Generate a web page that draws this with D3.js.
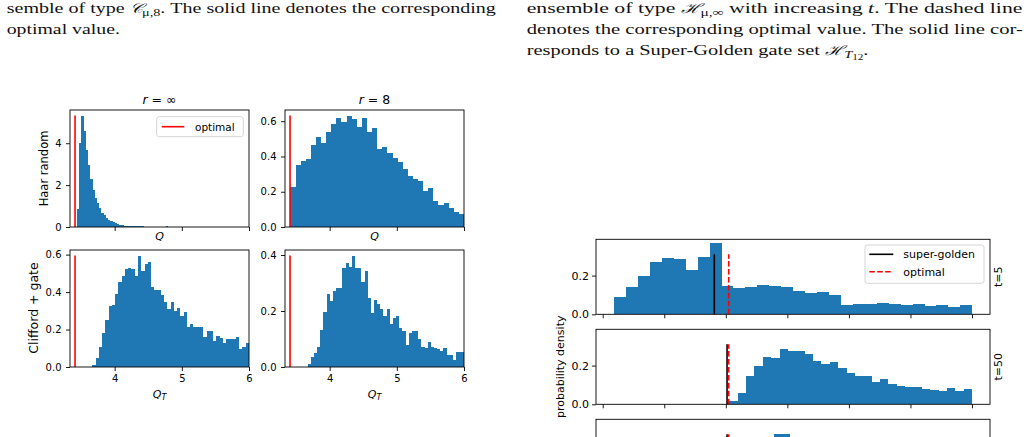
<!DOCTYPE html>
<html><head><meta charset="utf-8">
<script src="https://cdn.jsdelivr.net/npm/d3@7"></script>
<style>body{margin:0;background:#fff}svg{display:block}</style>
</head><body><svg id="c" width="1029" height="437"></svg>
<script>
// ---------------- data ----------------
const qTicks = [4, 5, 6];
const qDomain = [3.335, 6];
const optimalQ = 3.41;

const haarInfStart = 3.439, haarInfBin = 0.0331;
const haarInf = [0.85, 4.03, 5.32, 4.60, 3.70, 2.98, 2.29, 1.77, 1.37, 1.13, 0.89, 0.69, 0.56, 0.45, 0.35, 0.29, 0.24, 0.21, 0.16, 0.11,
  0.08, 0.07, 0.06, 0.06, 0.05, 0.04, 0.04, 0.03, 0.03, 0.03, 0.02, 0.02, 0.02, 0.02, 0.01, 0.02, 0.01, 0.01, 0.01, 0.01,
  0.03, 0.01, 0.01, 0.01, 0.01, 0.00, 0.01, 0.01, 0.00, 0.01, 0.00, 0.01, 0.00, 0.00, 0.01, 0.00, 0.00, 0.01, 0.00, 0.00,
  0.00, 0.01, 0.00, 0.00, 0.00, 0.00, 0.00, 0.01, 0.00, 0.00, 0.00, 0.00, 0.00, 0.00, 0.00, 0.01, 0.00, 0.00];

const haar8Start = 3.416, haar8Bin = 0.076;
const haar8 = [0.229, 0.349, 0.375, 0.387, 0.467, 0.512, 0.478, 0.541, 0.587, 0.621, 0.598, 0.632, 0.611, 0.570, 0.617, 0.541, 0.560,
  0.444, 0.455, 0.419, 0.394, 0.368, 0.330, 0.291, 0.272, 0.261, 0.204, 0.221, 0.147, 0.124, 0.137, 0.105, 0.084, 0.072, 0.072];

const cliffInfStart = 3.667, cliffInfBin = 0.0486;
const cliffInf = [0.011, 0.049, 0.105, 0.184, 0.249, 0.324, 0.330, 0.389, 0.452, 0.486, 0.524, 0.530, 0.524, 0.486, 0.595, 0.510,
  0.551, 0.562, 0.427, 0.411, 0.411, 0.384, 0.346, 0.308, 0.346, 0.297, 0.317, 0.270, 0.292, 0.211, 0.227, 0.216, 0.214, 0.211,
  0.162, 0.191, 0.191, 0.140, 0.166, 0.155, 0.130, 0.151, 0.148, 0.151, 0.162, 0.097, 0.108, 0.130];

const cliff8Start = 3.673, cliff8Bin = 0.047;
const cliff8 = [0.010, 0.036, 0.051, 0.072, 0.133, 0.195, 0.260, 0.236, 0.271, 0.282, 0.282, 0.354, 0.372, 0.358, 0.398, 0.354,
  0.354, 0.304, 0.343, 0.246, 0.193, 0.239, 0.224, 0.206, 0.181, 0.206, 0.152, 0.176, 0.181, 0.140, 0.130, 0.080, 0.123, 0.130,
  0.130, 0.101, 0.072, 0.069, 0.090, 0.072, 0.069, 0.065, 0.058, 0.069, 0.043, 0.043, 0.025, 0.054, 0.054, 0.054];

// right figure (x in axis units; tick labels hidden in the crop)
const hTicks = [0, 1, 2, 3, 4, 5, 6];
const hYTicks = [0, 0.2];
const tLabels = ["t=5", "t=50"];
const hStarts = [0.184, 2.057, 2.126];
const hBins = [0.194, 0.136, 0.1314];
const hT5 = [0.090, 0.141, 0.198, 0.271, 0.291, 0.286, 0.229, 0.297, 0.369, 0.145, 0.136, 0.141, 0.152, 0.147, 0.141,
  0.121, 0.112, 0.116, 0.100, 0.048, 0.053, 0.053, 0.059, 0.053, 0.048, 0.053, 0.043, 0.048, 0.038, 0.048];
const hT50 = [0.017, 0.059, 0.147, 0.198, 0.245, 0.240, 0.286, 0.276, 0.276, 0.260, 0.224, 0.209, 0.219, 0.188, 0.162,
  0.147, 0.147, 0.116, 0.131, 0.105, 0.095, 0.090, 0.090, 0.079, 0.074, 0.069, 0.084, 0.069, 0.079];
const hT500 = [0.010, 0.040, 0.120, 0.200, 0.260, 0.310, 0.310, 0.280, 0.270, 0.250, 0.220, 0.200, 0.180, 0.150, 0.130,
  0.120, 0.100, 0.090, 0.080, 0.070, 0.060, 0.060, 0.050, 0.050, 0.040, 0.040, 0.030, 0.030, 0.030];
const superGolden = [1.813, 2.02, 2.02];
const optimalH = 2.047;

// ---------------- drawing ----------------
const svg = d3.select("#c");
const BLUE = "#1f77b4";
const SANS = "'DejaVu Sans', sans-serif";
const SERIF = "'Liberation Serif', 'DejaVu Serif', serif";

// captions
function captionLine(x, y, target, parts) {
  const g = svg.append("g");
  const t = g.append("text").attr("font-family", SERIF).attr("font-size", 15.5).attr("fill", "#111");
  parts.forEach(p => {
    const ts = t.append("tspan").text(p.t);
    if (p.it) ts.attr("font-style", "italic");
    if (p.cal) ts.attr("font-family", "'DejaVu Serif', serif").attr("font-style", "italic").attr("font-size", 13.5);
    if (p.dy) ts.attr("dy", p.dy);
    if (p.fs) ts.attr("font-size", p.fs);
  });
  const w = t.node().getComputedTextLength();
  const sx = target ? target / w : 1;
  g.attr("transform", `translate(${x},${y}) scale(${sx},1)`);
}
captionLine(6.7, 13.3, 490.3, [{t: "semble of type "}, {t: "𝒞", cal: 1}, {t: "μ,8", fs: 11, dy: 3}, {t: ". The solid line denotes the corresponding", dy: -3}]);
captionLine(6.7, 34.3, 113.3, [{t: "optimal value."}]);
captionLine(526.7, 13.3, 496.3, [{t: "ensemble of type "}, {t: "ℋ", cal: 1}, {t: "μ,∞", fs: 11, dy: 3}, {t: " with increasing ", dy: -3}, {t: "t", it: 1}, {t: ". The dashed line"}]);
captionLine(526.7, 34.3, 496.3, [{t: "denotes the corresponding optimal value. The solid line cor-"}]);
captionLine(526.7, 55.3, 341.3, [{t: "responds to a Super-Golden gate set "}, {t: "ℋ", cal: 1}, {t: "T", fs: 11, dy: 3, it: 1}, {t: "12", fs: 8.5, dy: 2}, {t: ".", dy: -5}]);

// ---------- left 2x2 ----------
const PW = 179, PH = 117;
const leftPanels = [
  {x0: 70, y0: 110, vals: haarInf, start: haarInfStart, bin: haarInfBin, yt: [0, 2, 4], fmt: d3.format("d"), lab: false},
  {x0: 285, y0: 110, vals: haar8, start: haar8Start, bin: haar8Bin, yt: [0, 0.2, 0.4, 0.6], fmt: d3.format(".1f"), lab: false},
  {x0: 70, y0: 250, vals: cliffInf, start: cliffInfStart, bin: cliffInfBin, yt: [0, 0.2, 0.4, 0.6], fmt: d3.format(".1f"), lab: true},
  {x0: 285, y0: 250, vals: cliff8, start: cliff8Start, bin: cliff8Bin, yt: [0, 0.2, 0.4], fmt: d3.format(".1f"), lab: true}
];
const defs = svg.append("defs");
leftPanels.forEach((p, k) => {
  const x = d3.scaleLinear().domain(qDomain).range([p.x0, p.x0 + PW]);
  const ymax = d3.max(p.vals);
  const y = d3.scaleLinear().domain([0, ymax * 1.05]).range([p.y0 + PH, p.y0]);
  const g = svg.append("g");
  defs.append("clipPath").attr("id", "cl" + k).append("rect").attr("x", p.x0).attr("y", p.y0).attr("width", PW).attr("height", PH);
  const bars = g.append("g").attr("clip-path", `url(#cl${k})`);
  bars.selectAll("rect").data(p.vals).join("rect")
    .attr("x", (d, i) => x(p.start + i * p.bin))
    .attr("width", (d, i) => x(p.start + (i + 1) * p.bin) - x(p.start + i * p.bin))
    .attr("y", d => y(d)).attr("height", d => y(0) - y(d))
    .attr("fill", BLUE).attr("shape-rendering", "crispEdges");
  bars.append("line").attr("x1", x(optimalQ)).attr("x2", x(optimalQ)).attr("y1", y(0)).attr("y2", y(ymax))
    .attr("stroke", "#ff0000").attr("stroke-width", 1.6);
  // axes
  const ax = g.append("g").attr("transform", `translate(0,${p.y0 + PH})`)
    .call(d3.axisBottom(x).tickValues(qTicks).tickSize(4).tickPadding(4).tickFormat(p.lab ? d3.format("d") : () => ""));
  const ay = g.append("g").attr("transform", `translate(${p.x0},0)`)
    .call(d3.axisLeft(y).tickValues(p.yt).tickSize(4).tickPadding(4.5).tickFormat(p.fmt));
  [ax, ay].forEach(a => {
    a.select(".domain").remove();
    a.selectAll("line").attr("stroke", "#000").attr("stroke-width", 0.9);
    a.selectAll("text").attr("font-family", SANS).attr("font-size", 10).attr("fill", "#000");
  });
  g.append("rect").attr("x", p.x0).attr("y", p.y0).attr("width", PW).attr("height", PH)
    .attr("fill", "none").attr("stroke", "#000").attr("stroke-width", 0.9);
});

// titles
function mathLabel(x, y, parts, size, anchor) {
  const t = svg.append("text").attr("x", x).attr("y", y).attr("font-family", SANS).attr("font-size", size)
    .attr("text-anchor", anchor || "middle").attr("fill", "#000");
  parts.forEach(p => {
    const ts = t.append("tspan").text(p.t);
    if (p.it) ts.attr("font-style", "italic");
    if (p.fs) ts.attr("font-size", p.fs);
    if (p.dy) ts.attr("dy", p.dy);
  });
  return t;
}
mathLabel(159.5, 103.5, [{t: "r", it: 1}, {t: " = ∞"}], 12.5);
mathLabel(374.5, 103.5, [{t: "r", it: 1}, {t: " = 8"}], 12.5);
mathLabel(159.5, 239.5, [{t: "Q", it: 1}], 11);
mathLabel(374.5, 239.5, [{t: "Q", it: 1}], 11);
mathLabel(159.5, 398, [{t: "Q", it: 1}, {t: "T", it: 1, fs: 8, dy: 2}], 11);
mathLabel(374.5, 398, [{t: "Q", it: 1}, {t: "T", it: 1, fs: 8, dy: 2}], 11);
svg.append("text").attr("transform", "translate(48,168.5) rotate(-90)").attr("text-anchor", "middle")
  .attr("font-family", SANS).attr("font-size", 11.5).attr("fill", "#000").text("Haar random");
svg.append("text").attr("transform", "translate(37.5,308) rotate(-90)").attr("text-anchor", "middle")
  .attr("font-family", SANS).attr("font-size", 12.5).attr("fill", "#000").text("Clifford + gate");

// left legend
const lg = svg.append("g");
lg.append("rect").attr("x", 156.7).attr("y", 116.7).attr("width", 86.6).attr("height", 20).attr("rx", 2.5)
  .attr("fill", "#fff").attr("fill-opacity", 0.8).attr("stroke", "#d0d0d0").attr("stroke-width", 0.9);
lg.append("line").attr("x1", 161.7).attr("x2", 184.3).attr("y1", 126.7).attr("y2", 126.7).attr("stroke", "#ff0000").attr("stroke-width", 1.6);
lg.append("text").attr("x", 195).attr("y", 130.5).attr("font-family", SANS).attr("font-size", 10.5).attr("fill", "#000").text("optimal");

// ---------- right stacked panels ----------
const RX0 = 596, RW = 394, RH = 75;
const rTops = [239.3, 329.3, 419.3];
const rData = [hT5, hT50, hT500];
const hx = d3.scaleLinear().domain([-0.109, 6.292]).range([RX0, RX0 + RW]);
const hyMax = d3.max(rData.flat()) * 1.05;
rData.forEach((vals, k) => {
  const y0 = rTops[k];
  const y = d3.scaleLinear().domain([0, hyMax]).range([y0 + RH, y0]);
  const g = svg.append("g");
  g.selectAll("rect").data(vals).join("rect")
    .attr("x", (d, i) => hx(hStarts[k] + i * hBins[k]))
    .attr("width", (d, i) => hx(hStarts[k] + (i + 1) * hBins[k]) - hx(hStarts[k] + i * hBins[k]))
    .attr("y", d => y(d)).attr("height", d => y(0) - y(d)).attr("fill", BLUE).attr("shape-rendering", "crispEdges");
  g.append("line").attr("x1", hx(superGolden[k])).attr("x2", hx(superGolden[k]))
    .attr("y1", y(0)).attr("y2", y(0.8 * hyMax)).attr("stroke", "#000").attr("stroke-width", 1.6);
  g.append("line").attr("x1", hx(optimalH)).attr("x2", hx(optimalH))
    .attr("y1", y(0)).attr("y2", y(0.8 * hyMax)).attr("stroke", "#ff0000").attr("stroke-width", 1.6)
    .attr("stroke-dasharray", "5.55,2.4");
  const ax = g.append("g").attr("transform", `translate(0,${y0 + RH})`)
    .call(d3.axisBottom(hx).tickValues(hTicks).tickSize(4).tickFormat(() => ""));
  const ay = g.append("g").attr("transform", `translate(${RX0},0)`)
    .call(d3.axisLeft(y).tickValues(hYTicks).tickSize(4).tickPadding(3)
      .tickFormat(k < tLabels.length ? d3.format(".1f") : () => ""));
  [ax, ay].forEach(a => {
    a.select(".domain").remove();
    a.selectAll("line").attr("stroke", "#000").attr("stroke-width", 0.9);
    a.selectAll("text").attr("font-family", SANS).attr("font-size", 11).attr("fill", "#000");
  });
  g.append("rect").attr("x", RX0).attr("y", y0).attr("width", RW).attr("height", RH)
    .attr("fill", "none").attr("stroke", "#000").attr("stroke-width", 0.9);
  if (k < tLabels.length) {
    svg.append("text").attr("transform", `translate(1002,${y0 + RH / 2}) rotate(-90)`).attr("text-anchor", "middle")
      .attr("font-family", SANS).attr("font-size", 11).attr("fill", "#000").text(tLabels[k]);
  }
});
svg.append("text").attr("transform", `translate(564,${rTops[1] + RH / 2}) rotate(-90)`).attr("text-anchor", "middle")
  .attr("font-family", SANS).attr("font-size", 11).attr("fill", "#000").text("probability density");

// right legend
const rl = svg.append("g");
rl.append("rect").attr("x", 865).attr("y", 245).attr("width", 119).attr("height", 38.3).attr("rx", 2.5)
  .attr("fill", "#fff").attr("fill-opacity", 0.8).attr("stroke", "#d0d0d0").attr("stroke-width", 0.9);
rl.append("line").attr("x1", 869.3).attr("x2", 893.3).attr("y1", 254.3).attr("y2", 254.3).attr("stroke", "#000").attr("stroke-width", 1.6);
rl.append("line").attr("x1", 869.3).attr("x2", 893.3).attr("y1", 271.7).attr("y2", 271.7).attr("stroke", "#ff0000").attr("stroke-width", 1.6).attr("stroke-dasharray", "5.55,2.4");
rl.append("text").attr("x", 903.3).attr("y", 258.3).attr("font-family", SANS).attr("font-size", 11).attr("fill", "#000").text("super-golden");
rl.append("text").attr("x", 903.3).attr("y", 275.7).attr("font-family", SANS).attr("font-size", 11).attr("fill", "#000").text("optimal");
</script></body></html>
